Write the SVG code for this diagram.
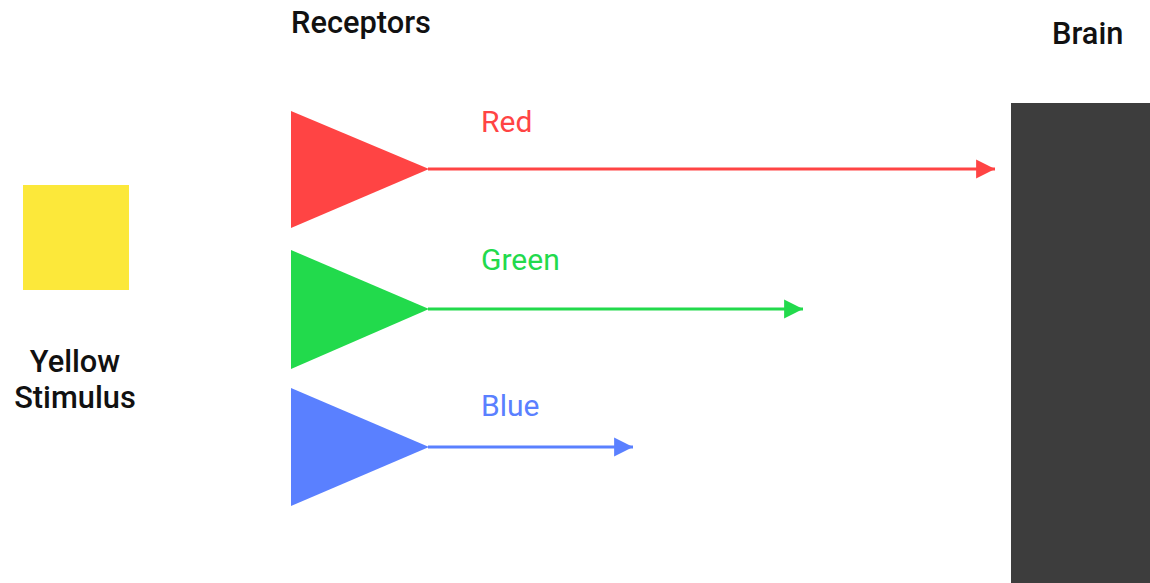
<svg xmlns="http://www.w3.org/2000/svg" width="1150" height="583" viewBox="0 0 1150 583">
  <style>
    .title { font-family: Roboto, "Liberation Sans", sans-serif; font-size: 30.8px; font-weight: 500; fill: #111; }
    .lbl { font-family: Roboto, "Liberation Sans", sans-serif; font-size: 30px; }
    .red { fill: #ff4444; }
    .green { fill: #22da4c; }
    .blue { fill: #5a80ff; }
    .wire { stroke-width: 3; fill: none; }
  </style>
  <defs>
    <marker id="ahRed" viewBox="0 0 10 10" refX="10" refY="5" markerWidth="6.3" markerHeight="6.5" markerUnits="strokeWidth" orient="auto">
      <path d="M0,0 L10,5 L0,10 Z" fill="#ff4444"/>
    </marker>
    <marker id="ahGreen" viewBox="0 0 10 10" refX="10" refY="5" markerWidth="6.3" markerHeight="6.5" markerUnits="strokeWidth" orient="auto">
      <path d="M0,0 L10,5 L0,10 Z" fill="#22da4c"/>
    </marker>
    <marker id="ahBlue" viewBox="0 0 10 10" refX="10" refY="5" markerWidth="6.3" markerHeight="6.5" markerUnits="strokeWidth" orient="auto">
      <path d="M0,0 L10,5 L0,10 Z" fill="#5a80ff"/>
    </marker>
  </defs>
  <rect width="1150" height="583" fill="#fff"/>

  <text class="title" x="291" y="33">Receptors</text>

  <g id="stimulus">
    <rect x="23" y="185" width="106" height="105" fill="#fce83a"/>
    <text class="title" x="75" y="372" text-anchor="middle">Yellow</text>
    <text class="title" x="75" y="408" text-anchor="middle">Stimulus</text>
  </g>

  <g id="receptor-red">
    <polygon points="291,111 429,169 291,228" class="red"/>
    <text class="lbl red" x="481" y="132">Red</text>
  </g>
  <g id="receptor-green">
    <polygon points="291,250 429,309 291,369" class="green"/>
    <text class="lbl green" x="481" y="270">Green</text>
  </g>
  <g id="receptor-blue">
    <polygon points="291,388 429,447 291,506" class="blue"/>
    <text class="lbl blue" x="481" y="416">Blue</text>
  </g>

  <g id="brain">
    <text class="title" x="1052" y="44">Brain</text>
    <rect x="1011" y="103" width="139" height="480" fill="#3d3d3d"/>
  </g>

  <g id="connectors">
    <line x1="428" y1="169" x2="995" y2="169" stroke="#ff4444" class="wire" marker-end="url(#ahRed)"/>
    <line x1="428" y1="309" x2="803" y2="309" stroke="#22da4c" class="wire" marker-end="url(#ahGreen)"/>
    <line x1="428" y1="447" x2="633" y2="447" stroke="#5a80ff" class="wire" marker-end="url(#ahBlue)"/>
  </g>
</svg>
